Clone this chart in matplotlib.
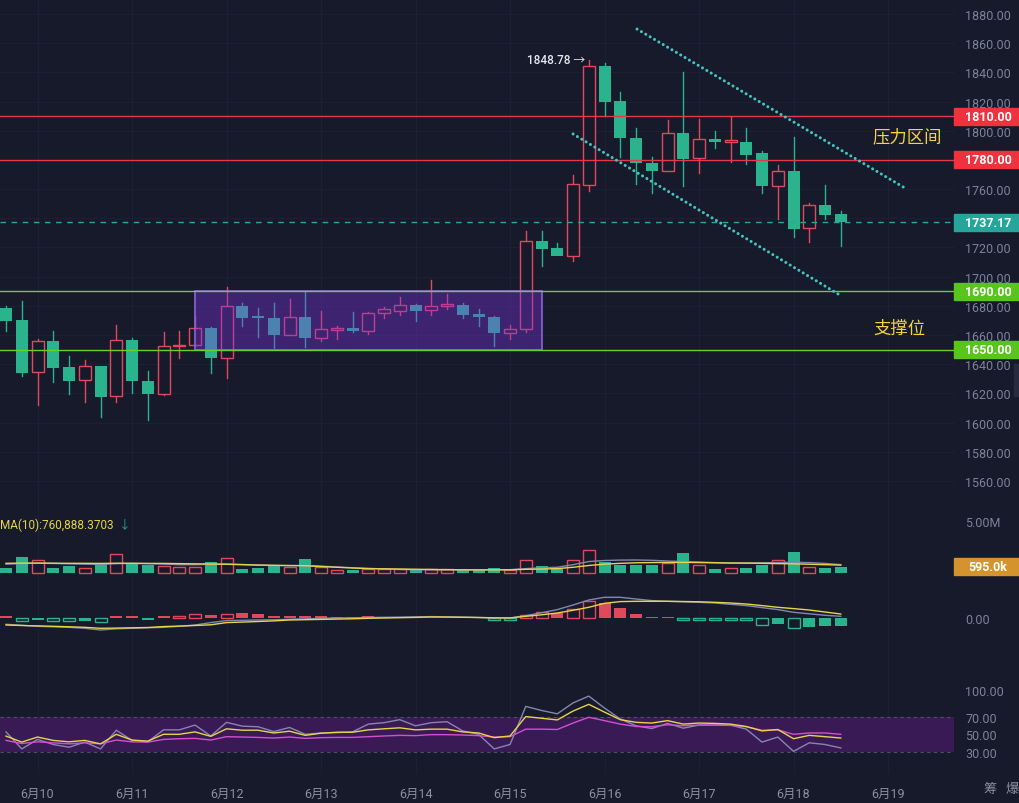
import matplotlib
matplotlib.use("Agg")
import matplotlib.pyplot as plt
import matplotlib.transforms as mtransforms
from matplotlib.patches import Rectangle

plt.rcParams['font.family'] = ['Roboto', 'Noto Sans CJK SC', 'DejaVu Sans']

# 4h candles, first one is 6/9 16:00, candle 39 is 6/16 00:00
opens = [1678.5, 1670.3, 1634.4, 1655.9, 1637.8, 1628.9, 1638.7, 1618.0, 1656.8, 1628.7,
         1619.5, 1652.2, 1653.1, 1664.8, 1644.0, 1679.7, 1672.8, 1671.4, 1660.2, 1672.5,
         1657.9, 1663.5, 1664.6, 1662.9, 1674.9, 1676.6, 1680.8, 1676.9, 1679.8, 1680.8,
         1674.2, 1672.1, 1661.4, 1663.9, 1724.2, 1719.4, 1714.3, 1763.0, 1844.6, 1820.4,
         1795.0, 1777.9, 1772.6, 1798.4, 1781.1, 1794.3, 1792.3, 1792.5, 1784.5, 1762.3,
         1772.6, 1733.1, 1749.1, 1742.9]
highs = [1680.0, 1683.5, 1657.0, 1662.5, 1645.8, 1642.9, 1639.0, 1666.8, 1657.7, 1635.1,
         1661.8, 1662.5, 1673.2, 1665.5, 1692.9, 1681.9, 1678.3, 1681.9, 1684.7, 1689.7,
         1676.6, 1666.4, 1676.0, 1676.0, 1679.4, 1686.2, 1681.0, 1697.7, 1688.1, 1681.9,
         1677.8, 1673.2, 1667.0, 1731.5, 1731.5, 1723.0, 1769.9, 1848.78, 1846.4, 1826.3,
         1801.9, 1781.8, 1807.6, 1840.0, 1808.0, 1800.0, 1809.2, 1801.7, 1785.9, 1776.5,
         1795.5, 1750.5, 1762.8, 1744.8]
lows = [1663.0, 1632.0, 1612.0, 1628.0, 1619.5, 1614.3, 1604.0, 1613.9, 1620.2, 1601.5,
        1619.0, 1644.2, 1653.0, 1634.0, 1630.3, 1666.0, 1658.4, 1650.9, 1660.0, 1652.0,
        1656.1, 1657.2, 1661.8, 1660.7, 1671.4, 1673.9, 1669.8, 1673.9, 1677.8, 1671.4,
        1666.4, 1652.2, 1657.2, 1661.8, 1707.5, 1714.0, 1710.9, 1758.9, 1810.3, 1781.8,
        1763.5, 1757.3, 1772.6, 1761.9, 1771.0, 1788.2, 1778.4, 1777.2, 1757.3, 1739.5,
        1727.4, 1723.5, 1739.5, 1720.8]
closes = [1669.8, 1634.0, 1655.7, 1637.6, 1628.7, 1638.5, 1617.7, 1656.6, 1628.2, 1619.5,
          1652.2, 1653.2, 1664.6, 1644.0, 1679.7, 1671.4, 1672.0, 1660.2, 1672.1, 1657.9,
          1664.1, 1664.3, 1662.9, 1675.1, 1677.6, 1680.5, 1676.6, 1679.7, 1680.2, 1673.9,
          1672.1, 1661.2, 1663.9, 1724.2, 1718.9, 1714.3, 1763.5, 1844.2, 1819.9, 1794.8,
          1777.7, 1772.6, 1798.2, 1780.6, 1794.3, 1792.1, 1792.8, 1783.6, 1762.3, 1772.6,
          1732.6, 1749.1, 1742.2, 1737.17]

# volume in millions
volumes = [0.51, 1.57, 1.25, 0.51, 0.67, 0.51, 0.84, 1.80, 0.84, 0.77,
           0.67, 0.61, 0.61, 1.09, 1.47, 0.41, 0.45, 0.64, 0.61, 1.38,
           0.58, 0.26, 0.26, 0.36, 0.36, 0.36, 0.36, 0.36, 0.36, 0.29,
           0.29, 0.48, 0.32, 1.28, 0.64, 0.45, 1.28, 2.24, 1.09, 0.77,
           0.77, 0.77, 0.96, 1.92, 0.77, 0.38, 0.51, 0.45, 0.77, 1.28,
           1.99, 0.55, 0.45, 0.595]
vol_ma10 = [0.93, 0.95, 0.95, 0.94, 0.93, 0.93, 0.92, 0.94, 0.93, 0.92,
            0.92, 0.90, 0.88, 0.86, 0.84, 0.80, 0.76, 0.74, 0.72, 0.70,
            0.62, 0.55, 0.48, 0.42, 0.40, 0.38, 0.36, 0.34, 0.32, 0.31,
            0.30, 0.30, 0.31, 0.35, 0.38, 0.42, 0.55, 0.72, 0.85, 0.93,
            0.98, 1.00, 1.01, 1.02, 1.00, 0.98, 0.96, 0.95, 0.93, 0.90,
            0.88, 0.84, 0.80, 0.76]
vol_ma5 = [0.85, 0.90, 0.95, 0.92, 0.88, 0.85, 0.82, 0.90, 0.92, 0.90,
           0.86, 0.80, 0.80, 0.84, 0.86, 0.82, 0.76, 0.72, 0.70, 0.72,
           0.66, 0.58, 0.50, 0.44, 0.40, 0.34, 0.32, 0.30, 0.30, 0.30,
           0.30, 0.32, 0.32, 0.42, 0.50, 0.55, 0.80, 1.10, 1.20, 1.24,
           1.25, 1.22, 1.15, 1.10, 1.05, 1.00, 0.96, 0.96, 0.98, 1.00,
           1.03, 1.00, 0.92, 0.80]

# MACD (scaled units)
macd_hist = [2.3, -2.7, -1.7, -2.7, -3.0, -2.3, -3.3, 2.3, 2.0, -1.7,
             2.3, 2.7, 4.3, 3.0, 4.7, 5.7, 4.0, 2.0, 2.0, 2.3,
             2.3, 1.7, 1.7, 2.3, 1.7, 1.3, 1.0, 0.7, 0.5, 0.5,
             0.3, -1.3, -1.3, 3.3, 6.0, 5.0, 9.3, 17.0, 15.0, 10.0,
             4.0, 1.3, 1.3, -1.5, -1.2, -1.5, -1.5, -1.5, -6.7, -5.7,
             -10.0, -9.0, -8.0, -8.0]
macd_hollow = [0, 1, 0, 1, 1, 0, 1, 0, 0, 0,
               0, 1, 1, 0, 1, 0, 0, 0, 0, 0,
               0, 0, 0, 0, 0, 0, 0, 0, 0, 0,
               0, 1, 1, 1, 1, 0, 1, 1, 0, 0,
               0, 0, 0, 1, 1, 1, 1, 1, 1, 0,
               1, 0, 0, 0]
dif = [-6.0, -7.0, -8.0, -8.5, -9.0, -10.0, -11.7, -10.5, -10.0, -9.5,
       -9.0, -8.0, -6.7, -4.3, -2.3, -2.0, -1.7, -1.5, -1.0, -0.5,
       0.0, 0.3, 0.5, 0.8, 1.0, 1.2, 1.4, 1.7, 1.5, 1.2,
       0.8, 0.3, 0.2, 2.7, 5.5, 8.7, 13.3, 18.3, 21.0, 21.0,
       19.3, 17.7, 17.0, 16.5, 16.0, 15.3, 14.0, 12.7, 10.7, 8.7,
       6.0, 4.5, 3.0, 2.0]
dea = [-6.7, -7.2, -7.6, -8.0, -8.5, -9.0, -10.0, -9.8, -9.5, -9.2,
       -8.3, -7.8, -7.2, -6.5, -4.3, -3.8, -3.2, -2.6, -1.7, -1.4,
       -1.1, -0.8, -0.5, 0.0, 0.3, 0.6, 0.9, 1.3, 1.2, 1.0,
       0.8, 0.5, 0.4, 2.0, 3.5, 5.3, 8.0, 11.0, 15.0, 16.7,
       17.0, 17.0, 17.0, 16.8, 16.5, 16.0, 15.3, 14.3, 12.7, 11.0,
       9.7, 8.3, 6.3, 4.3]

rsi6 = [52.7, 33.5, 44.2, 38.5, 35.4, 41.2, 33.5, 54.6, 43.1, 41.5,
        55.0, 55.0, 60.4, 48.1, 63.5, 59.2, 58.5, 53.1, 57.7, 50.0,
        51.5, 51.9, 52.7, 61.5, 63.1, 66.5, 59.6, 63.1, 64.2, 53.8,
        50.0, 33.5, 38.5, 81.5, 76.9, 73.1, 85.4, 93.1, 79.6, 67.3,
        59.6, 56.5, 62.3, 56.9, 60.4, 60.4, 60.4, 55.8, 41.2, 46.9,
        30.8, 40.4, 38.5, 34.6]
rsi12 = [48.0, 41.2, 46.9, 43.1, 41.5, 43.1, 39.2, 50.0, 43.5, 42.3,
         50.0, 50.0, 52.7, 47.7, 56.2, 54.6, 54.6, 51.5, 53.5, 48.8,
         51.2, 52.3, 52.3, 55.0, 56.2, 57.3, 55.0, 55.8, 55.8, 52.7,
         51.5, 46.2, 48.1, 70.0, 68.1, 66.2, 76.2, 83.8, 75.0, 66.5,
         63.5, 62.7, 65.4, 61.5, 62.7, 62.3, 61.5, 58.8, 53.8, 55.4,
         45.0, 48.8, 47.3, 45.8]
rsi24 = [43.1, 39.6, 41.5, 40.4, 39.2, 40.4, 39.2, 43.5, 41.5, 41.2,
         44.2, 45.0, 45.4, 43.5, 47.3, 46.9, 46.5, 45.8, 46.9, 45.4,
         46.2, 46.5, 46.5, 47.3, 48.1, 48.8, 48.5, 49.6, 49.6, 49.2,
         48.5, 46.9, 47.3, 55.8, 55.8, 55.4, 62.7, 69.2, 65.4, 61.5,
         58.8, 58.5, 60.8, 59.6, 60.4, 60.4, 60.0, 58.5, 54.6, 55.0,
         50.0, 51.5, 51.5, 50.0]

day_nums = [10, 11, 12, 13, 14, 15, 16, 17, 18, 19]
price_ticks = list(range(1560, 1881, 20))
resist = [1810.00, 1780.00]
support = [1690.00, 1650.00]
last_price = 1737.17
last_vol = 0.595

bg = '#161a2a'
up_col = '#e0485c'
dn_col = '#2bb38e'
grid_col = '#1b2032'
label_col = '#7c8398'
yellow = '#e6d44a'
grey_line = '#8387b0'

n = len(opens)
t = [(i - 38) / 6 for i in range(n)]  # days from 6/16 00:00
w = 0.127
is_up = [c >= o for o, c in zip(opens, closes)]

fig = plt.figure(figsize=(10.19, 8.04), dpi=100, facecolor=bg)
W, H, PW = 1019, 804, 954


def px_axes(top, bottom):
    a = fig.add_axes([0, 1 - bottom / H, PW / W, (bottom - top) / H])
    a.set_facecolor(bg)
    for s in a.spines.values():
        s.set_visible(False)
    a.set_xlim(-6.397, 3.698)
    a.yaxis.tick_right()
    a.tick_params(axis='y', length=0, pad=8, labelcolor=label_col, labelsize=9)
    a.tick_params(axis='x', length=0, labelbottom=False)
    a.set_xticks([d - 16 for d in day_nums])
    a.grid(axis='x', color=grid_col, lw=0.8)
    a.set_axisbelow(True)
    return a


def tag(a, y, text, color, h):
    tr = mtransforms.blended_transform_factory(a.transAxes, a.transData)
    a.add_patch(Rectangle((1.0, y - h / 2), 65 / PW, h, transform=tr, color=color,
                          clip_on=False, zorder=6))
    a.text(1.0 + 34 / PW, y, text, transform=tr, ha='center', va='center', color='white',
           fontsize=9, fontweight='bold', zorder=7, clip_on=False)


# ---- price panel
ax = px_axes(0, 505)
ax.set_ylim(1544.2, 1890.3)
ax.set_yticks(price_ticks)
# 1740 sits under the last-price tag, so its label is left blank
ax.set_yticklabels(['' if p == 1740 else f'{p:.2f}' for p in price_ticks])
ax.grid(axis='y', color=grid_col, lw=0.8)

for i in range(n):
    top = max(opens[i], closes[i])
    bot = min(opens[i], closes[i])
    col = up_col if is_up[i] else dn_col
    ax.plot([t[i], t[i]], [top, highs[i]], color=col, lw=1, zorder=2)
    ax.plot([t[i], t[i]], [lows[i], bot], color=col, lw=1, zorder=2)
    h = max(top - bot, 1.2)
    if is_up[i]:
        ax.bar(t[i], h, w, bottom=bot, facecolor=bg, edgecolor=col, lw=1, zorder=3)
    else:
        ax.bar(t[i], h, w, bottom=bot, color=col, lw=0, zorder=3)

# consolidation box
ax.add_patch(Rectangle((-4.333, 1650), 3.672, 40, facecolor='#8132e6', alpha=0.38,
                       lw=0, zorder=4))
ax.add_patch(Rectangle((-4.333, 1650), 3.672, 40, facecolor='none', edgecolor='#8d63d6',
                       lw=1.2, zorder=4))

for p in resist:
    ax.axhline(p, color='#e23a4c', lw=1, zorder=5)
for p in support:
    ax.axhline(p, color='#6ccf2a', lw=1, zorder=5)
ax.axhline(last_price, color='#2aa79b', lw=1, ls=(0, (4, 4)), zorder=5)

# channel lines
ax.plot([0.344, 3.18], [1869.7, 1760.7], color='#45c4c0', lw=2.2, ls=(0, (0.01, 1.65)),
        dash_capstyle='round', zorder=5)
ax.plot([-0.333, 2.49], [1797.8, 1687.4], color='#45c4c0', lw=2.2, ls=(0, (0.01, 1.65)),
        dash_capstyle='round', zorder=5)

ax.text(-0.206, 1848.78, '1848.78 →', color='#e8eaf0', fontsize=8.5, fontweight='medium',
        ha='right', va='center', zorder=6)
ax.text(2.84, 1796.4, '压力区间', color='#f5d445', fontsize=12.5, ha='left', va='center',
        family=['Noto Sans CJK SC', 'DejaVu Sans'], zorder=6)
ax.text(2.84, 1664.8, '支撑位', color='#f5d445', fontsize=12.5, ha='left', va='center',
        family=['Noto Sans CJK SC', 'DejaVu Sans'], zorder=6)

tag(ax, resist[0], f'{resist[0]:.2f}', '#f0323f', 11.6)
tag(ax, resist[1], f'{resist[1]:.2f}', '#f0323f', 11.6)
tag(ax, last_price, f'{last_price:.2f}', '#26a69a', 11.6)
tag(ax, support[0], f'{support[0]:.2f}', '#58c41c', 11.6)
tag(ax, support[1], f'{support[1]:.2f}', '#58c41c', 11.6)

# ---- volume panel
axv = px_axes(505, 580)
axv.set_ylim(-0.577, 6.63)
axv.set_yticks([5])
axv.set_yticklabels(['5.00M'])
for i in range(n):
    if is_up[i]:
        axv.bar(t[i], volumes[i], w, facecolor=bg, edgecolor=up_col, lw=1, zorder=3)
    else:
        axv.bar(t[i], volumes[i], w, color=dn_col, lw=0, zorder=3)
axv.plot(t, vol_ma5, color=grey_line, lw=1, zorder=4)
axv.plot(t, vol_ma10, color=yellow, lw=1, zorder=4)
tag(axv, last_vol, '595.0k', '#d4932c', 1.63)
fig.text(0.0, 1 - 525 / H, 'MA(10):760,888.3703', color=yellow, fontsize=8.5, va='center')
fig.text(0.117, 1 - 525 / H, '↓', color='#2aa79b', fontsize=8.5, va='center')

# ---- MACD panel
axm = px_axes(580, 655)
axm.set_ylim(-35.7, 39.3)
axm.set_yticks([0])
axm.set_yticklabels(['0.00'])
for i in range(n):
    col = up_col if macd_hist[i] >= 0 else dn_col
    if macd_hollow[i]:
        axm.bar(t[i], macd_hist[i], w, facecolor=bg, edgecolor=col, lw=1, zorder=3)
    else:
        axm.bar(t[i], macd_hist[i], w, color=col, lw=0, zorder=3)
axm.plot(t, dif, color=grey_line, lw=1, zorder=4)
axm.plot(t, dea, color=yellow, lw=1, zorder=4)

# ---- RSI panel
axr = px_axes(655, 775)
axr.set_ylim(5.2, 140.6)
axr.set_yticks([30, 50, 70, 100])
axr.set_yticklabels(['30.00', '50.00', '70.00', '100.00'])
axr.axhspan(30, 70, color='#3a1a55', lw=0, zorder=1)
axr.axhline(70, color='#4c5068', lw=0.8, ls=(0, (3, 3)), zorder=2)
axr.axhline(30, color='#4c5068', lw=0.8, ls=(0, (3, 3)), zorder=2)
axr.plot(t, rsi6, color=grey_line, lw=1, zorder=3)
axr.plot(t, rsi24, color='#d44fd0', lw=1, zorder=3)
axr.plot(t, rsi12, color=yellow, lw=1, zorder=4)
axr.tick_params(axis='x', labelbottom=True, pad=9, labelcolor='#8a90a0', labelsize=9)
axr.set_xticklabels([f'6月{d}' for d in day_nums])

fig.text(990 / W, 1 - 790 / H, '筹', color='#8a90a0', fontsize=9.5, ha='center', va='center',
         family=['Noto Sans CJK SC', 'DejaVu Sans'])
fig.text(1012 / W, 1 - 790 / H, '爆', color='#8a90a0', fontsize=9.5, ha='center', va='center',
         family=['Noto Sans CJK SC', 'DejaVu Sans'])
fig.patches.append(Rectangle((1014 / W, 1 - 397 / H), 6 / W, 32 / H, color='#262b42',
                             transform=fig.transFigure, figure=fig))

fig.savefig('out.png', dpi=100, facecolor=bg)
